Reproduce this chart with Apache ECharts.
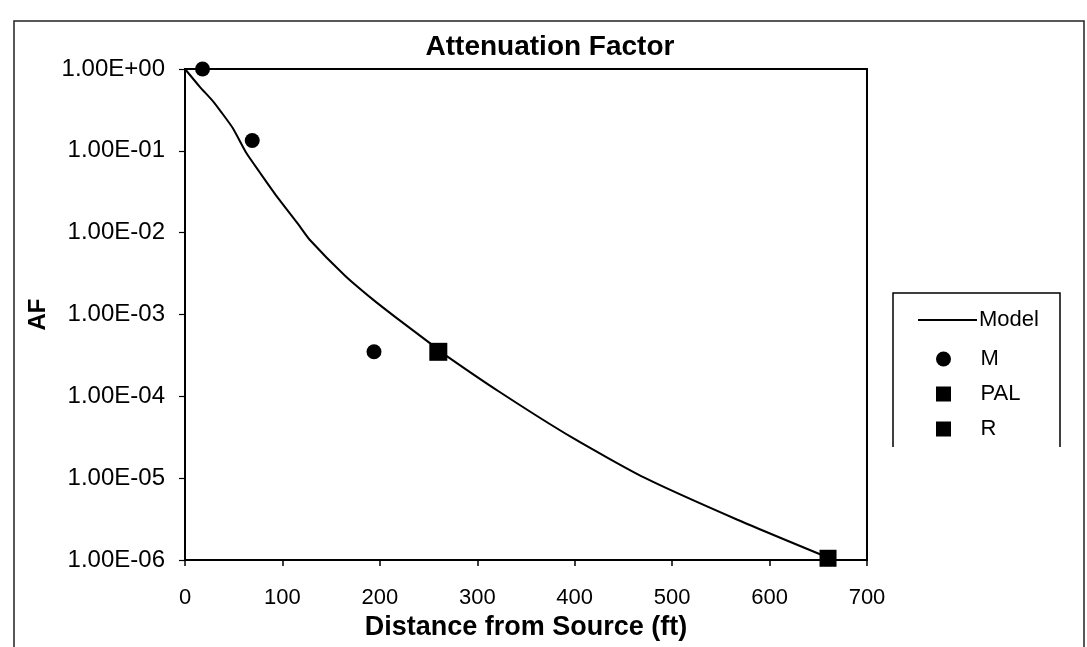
<!DOCTYPE html>
<html>
<head>
<meta charset="utf-8">
<script src="https://cdn.jsdelivr.net/npm/echarts@6/dist/echarts.min.js"></script>
<style>
  html, body { margin: 0; padding: 0; background: #fff; }
  #chart { width: 1087px; height: 647px; }
</style>
</head>
<body>
<div id="chart"></div>
<script>
// ---- data ----
const modelX = [0, 15, 29, 37, 49, 63, 77, 94, 116, 128, 164, 193, 217, 251, 261, 323, 398, 471, 567, 660];
const modelY = [1.0, 0.61, 0.40, 0.30, 0.19, 0.094, 0.054, 0.028, 0.0128, 0.0082, 0.0030, 0.00152, 0.00091, 0.00045, 0.00036, 0.000113, 0.000031, 0.0000102, 0.0000031, 0.00000107];
const mX = [18, 69, 194];
const mY = [1.0, 0.134, 0.00035];
const palX = [260];
const palY = [0.00035];
const rX = [660];
const rY = [0.00000105];
const yTickLabels = ['1.00E-06', '1.00E-05', '1.00E-04', '1.00E-03', '1.00E-02', '1.00E-01', '1.00E+00'];
const xTicks = [0, 100, 200, 300, 400, 500, 600, 700];

const FONT = '"Liberation Sans", Arial, Helvetica, sans-serif';
const SQUARE = 'path://M0,0L10,0L10,10L0,10Z';
const pairs = (xs, ys) => xs.map((x, i) => [x, ys[i]]);

const chart = echarts.init(document.getElementById('chart'), null, { renderer: 'canvas' });
chart.setOption({
  backgroundColor: '#ffffff',
  animation: false,
  title: {
    text: 'Attenuation Factor',
    left: 545,
    textAlign: 'center',
    top: 28,
    textStyle: { fontFamily: FONT, fontWeight: 'bold', fontSize: 28, color: '#000' }
  },
  grid: {
    left: 185, right: 220, top: 69, bottom: 87,
    show: true, borderColor: '#000', borderWidth: 2, backgroundColor: 'transparent'
  },
  xAxis: {
    type: 'value',
    min: 0, max: 700, interval: 100,
    name: 'Distance from Source (ft)',
    nameLocation: 'middle',
    nameGap: 42,
    nameTextStyle: { fontFamily: FONT, fontWeight: 'bold', fontSize: 27, color: '#000' },
    axisLine: { show: true, onZero: false, lineStyle: { color: '#000', width: 2 } },
    axisTick: { show: true, length: 6, lineStyle: { color: '#000', width: 1.5 } },
    axisLabel: {
      margin: 27, fontFamily: FONT, fontSize: 22, color: '#000',
      formatter: v => (xTicks.indexOf(v) >= 0 ? String(v) : '')
    },
    splitLine: { show: false }
  },
  yAxis: {
    type: 'log',
    logBase: 10,
    min: 1e-6, max: 1, interval: 1,
    name: 'AF',
    nameLocation: 'middle',
    nameRotate: 90,
    nameGap: 128,
    nameTextStyle: { fontFamily: FONT, fontWeight: 'bold', fontSize: 24, color: '#000' },
    axisLine: { show: true, lineStyle: { color: '#000', width: 2 } },
    axisTick: { show: true, length: 6, lineStyle: { color: '#000', width: 1.2 } },
    axisLabel: {
      margin: 20, fontFamily: FONT, fontSize: 24, color: '#000',
      formatter: v => yTickLabels[Math.round(Math.log10(v)) + 6] || ''
    },
    splitLine: { show: false },
    minorTick: { show: false }
  },
  legend: [
    {
      data: [{ name: 'Model', icon: 'rect' }],
      left: 913, top: 304,
      itemWidth: 59, itemHeight: 2,
      textStyle: { fontFamily: FONT, fontSize: 22, color: '#000', padding: [0, 0, 0, -3] }
    },
    {
      data: [
        { name: 'M', icon: 'circle' },
        { name: 'PAL', icon: SQUARE },
        { name: 'R', icon: SQUARE }
      ],
      orient: 'vertical',
      left: 931, top: 343,
      itemWidth: 70, itemHeight: 15, itemGap: 13,
      symbolKeepAspect: true,
      textStyle: { fontFamily: FONT, fontSize: 22, color: '#000', padding: [0, 0, 0, -3] }
    }
  ],
  graphic: [
    {
      type: 'polyline',
      shape: { points: [[893, 447], [893, 293], [1060, 293], [1060, 447]] },
      style: { stroke: '#000', lineWidth: 1.5, fill: null },
      silent: true
    },
    {
      type: 'polyline',
      shape: { points: [[14, 647], [14, 21], [1084, 21], [1084, 647]] },
      style: { stroke: '#222', lineWidth: 1.5, fill: null },
      silent: true
    }
  ],
  series: [
    {
      name: 'Model',
      type: 'line',
      data: pairs(modelX, modelY),
      symbol: 'none',
      smooth: 0.2,
      lineStyle: { color: '#000', width: 2 },
      itemStyle: { color: '#000' },
      z: 2
    },
    {
      name: 'M',
      type: 'scatter',
      data: pairs(mX, mY),
      symbol: 'circle',
      symbolSize: 15,
      clip: false,
      itemStyle: { color: '#000', opacity: 1 },
      z: 3
    },
    {
      name: 'PAL',
      type: 'scatter',
      data: pairs(palX, palY),
      symbol: 'rect',
      symbolSize: 18,
      clip: false,
      itemStyle: { color: '#000', opacity: 1 },
      z: 3
    },
    {
      name: 'R',
      type: 'scatter',
      data: pairs(rX, rY),
      symbol: 'rect',
      symbolSize: 17,
      clip: false,
      itemStyle: { color: '#000', opacity: 1 },
      z: 3
    }
  ]
});
</script>
</body>
</html>
